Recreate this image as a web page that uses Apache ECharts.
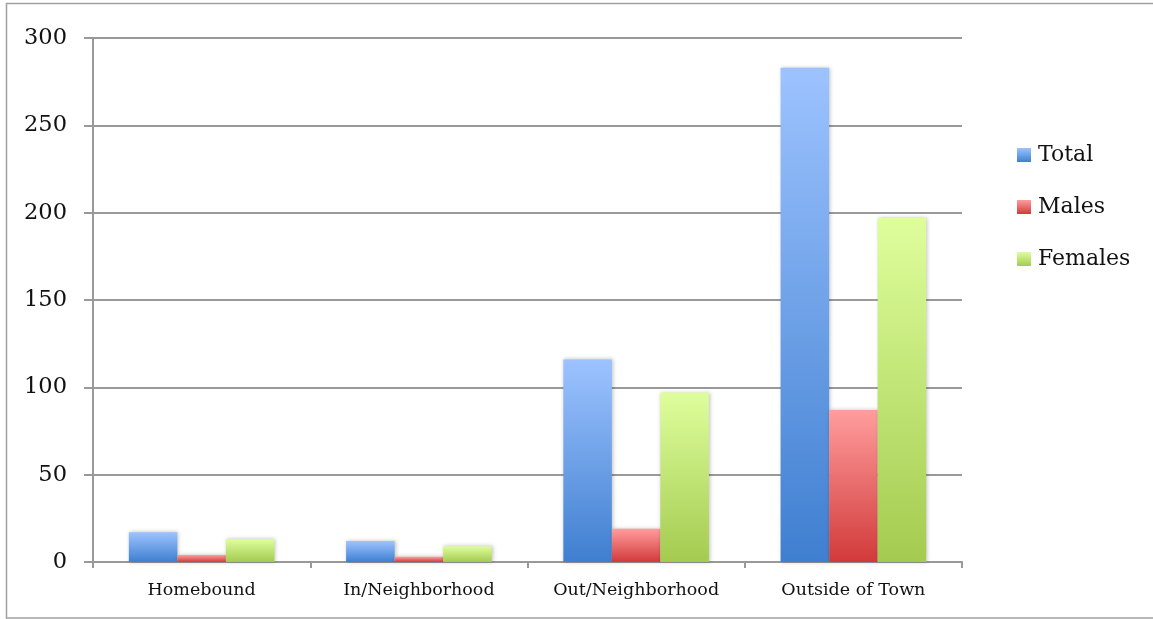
<!DOCTYPE html>
<html>
<head>
<meta charset="utf-8">
<script src="https://cdn.jsdelivr.net/npm/echarts@6/dist/echarts.min.js"></script>
<style>
html,body{margin:0;padding:0;background:#fff;}
#c{width:1153px;height:619px;}
</style>
</head>
<body>
<div id="c"></div>
<script>
var categories = ['Homebound', 'In/Neighborhood', 'Out/Neighborhood', 'Outside of Town'];
var totalValues = [17, 12, 116, 283];
var maleValues = [4, 3, 19, 87];
var femaleValues = [13, 9, 97, 197];
var yTicks = [0, 50, 100, 150, 200, 250, 300];

var chart = echarts.init(document.getElementById('c'));
var serif = '"DejaVu Serif", "Liberation Serif", serif';

function grad(top, bottom) {
  return new echarts.graphic.LinearGradient(0, 0, 0, 1, [
    {offset: 0, color: top},
    {offset: 1, color: bottom}
  ]);
}
var barShadow = {shadowBlur: 4, shadowColor: 'rgba(0,0,0,0.25)', shadowOffsetX: 1, shadowOffsetY: 0};

chart.setOption({
  animation: false,
  backgroundColor: '#fff',
  graphic: [{
    type: 'rect',
    shape: {x: 6.5, y: 3.5, width: 1160, height: 614.5},
    style: {fill: 'none', stroke: '#a0a0a0', lineWidth: 1.5},
    z: -10
  }],
  grid: {left: 93, right: 191, top: 38, bottom: 57, containLabel: false},
  legend: {
    orient: 'vertical',
    left: 1012,
    top: 138,
    icon: 'rect',
    itemWidth: 14,
    itemHeight: 14,
    itemGap: 28,
    textStyle: {fontFamily: serif, fontSize: 22, lineHeight: 24, color: '#111', padding: [0, 0, 0, 2]},
    data: ['Total', 'Males', 'Females']
  },
  xAxis: {
    type: 'category',
    data: categories,
    axisLine: {lineStyle: {color: '#999', width: 2}},
    axisTick: {show: true, length: 6, lineStyle: {color: '#999', width: 2}},
    axisLabel: {fontFamily: serif, fontSize: 17.5, color: '#111', margin: 19}
  },
  yAxis: {
    type: 'value',
    min: yTicks[0],
    max: yTicks[yTicks.length - 1],
    interval: yTicks[1] - yTicks[0],
    axisLine: {show: true, lineStyle: {color: '#999', width: 2}},
    axisTick: {show: true, length: 9, lineStyle: {color: '#999', width: 2}},
    splitLine: {lineStyle: {color: '#999', width: 2}},
    axisLabel: {fontFamily: serif, fontSize: 22.5, color: '#111', margin: 26}
  },
  series: [
    {
      name: 'Total', type: 'bar', data: totalValues,
      barGap: '0%', barCategoryGap: '33%',
      itemStyle: Object.assign({color: grad('#9dc3ff', '#3f7fd0')}, barShadow)
    },
    {
      name: 'Males', type: 'bar', data: maleValues,
      barGap: '0%', barCategoryGap: '33%',
      itemStyle: Object.assign({color: grad('#ff9d9d', '#d23a3a')}, barShadow)
    },
    {
      name: 'Females', type: 'bar', data: femaleValues,
      barGap: '0%', barCategoryGap: '33%',
      itemStyle: Object.assign({color: grad('#defe9c', '#a4cb50')}, barShadow)
    }
  ]
});
</script>
</body>
</html>
